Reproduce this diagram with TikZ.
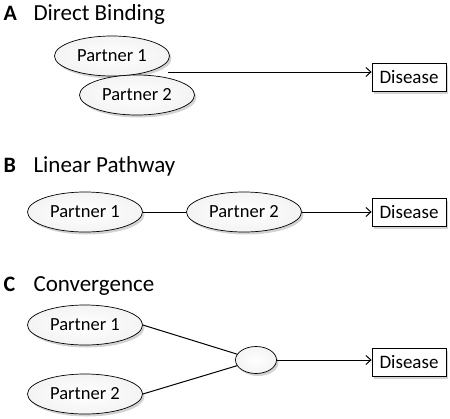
\documentclass[tikz,border=0pt]{standalone}
\usepackage{fontspec}
\setmainfont{Carlito}
\usetikzlibrary{shapes.geometric, shadows, arrows.meta}

\begin{document}
\begin{tikzpicture}[x=1pt,y=-1pt,
  partner/.style={ellipse, draw, line width=0.7pt, minimum width=115pt, minimum height=40pt,
    inner color=white, outer color=gray!9,
    drop shadow={shadow xshift=2pt, shadow yshift=-2.5pt, opacity=0.35},
    font=\fontsize{18.5}{18.5}\selectfont},
  outcome/.style={rectangle, draw, line width=0.7pt, fill=white, minimum width=74pt, minimum height=28pt,
    drop shadow={shadow xshift=2pt, shadow yshift=-2.5pt, opacity=0.35},
    font=\fontsize{19}{19}\selectfont},
  letter/.style={anchor=base west, font=\bfseries\fontsize{22}{22}\selectfont},
  heading/.style={anchor=base west, font=\fontsize{23}{23}\selectfont},
  link/.style={line width=1pt},
  cause/.style={line width=1pt, -{Straight Barb[length=5pt, width=9pt]}}]
\useasboundingbox (0,0) rectangle (450,418);

% A: direct binding
\node[letter] (labA) at (0,20) {A};
\node[heading] (headA) at (30,20) {Direct Binding};
\node[partner] (p1A) at (112,56) {Partner 1};
\node[partner] (p2A) at (137,95) {Partner 2};
\node[outcome] (disA) at (409,77) {Disease};
\coordinate (bindA) at (168,72);
\draw[cause] (bindA) -- (disA.west |- bindA);

% B: linear pathway
\node[letter] (labB) at (0,172) {B};
\node[heading] (headB) at (30,172) {Linear Pathway};
\node[partner] (p1B) at (85,212) {Partner 1};
\node[partner] (p2B) at (244,212) {Partner 2};
\node[outcome] (disB) at (409,212) {Disease};
\draw[link] (p1B) -- (p2B);
\draw[cause] (p2B) -- (disB);

% C: convergence
\node[letter] (labC) at (0,291) {C};
\node[heading] (headC) at (30,291) {Convergence};
\node[partner] (p1C) at (85,325) {Partner 1};
\node[partner] (p2C) at (85,394) {Partner 2};
\node[partner, minimum width=41pt, minimum height=27pt] (hub) at (256,360) {};
\node[outcome] (disC) at (409,362) {Disease};
\draw[link] (p1C.east) -- (hub);
\draw[link] (p2C.east) -- (hub);
\draw[cause] (hub.east) -- (disC.west |- hub.east);
\end{tikzpicture}
\end{document}
